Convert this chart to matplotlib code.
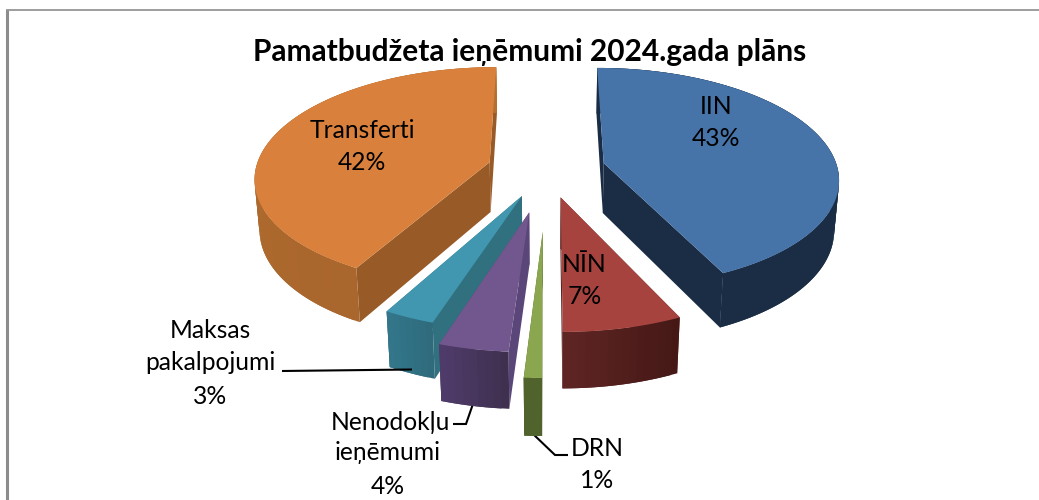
import numpy as np
import matplotlib
matplotlib.use("Agg")
import matplotlib.pyplot as plt
from matplotlib.colors import to_rgb
from matplotlib.collections import PolyCollection

title = "Pamatbudžeta ieņēmumi 2024.gada plāns"
categories = ["IIN", "NĪN", "DRN", "Nenodokļu ieņēmumi", "Maksas pakalpojumi", "Transferti"]
values = [43, 7, 1, 4, 3, 42]

# style: explosion per slice and colours (top, radial wall, rim start, rim end)
explode = [0.25, 0.258, 0.535, 0.385, 0.262, 0.255]
tops = ["#4673A8", "#A6433F", "#8AA64E", "#72578E", "#4197AF", "#D9813C"]
walls = ["#1A2D45", "#5A2422", "#51632C", "#5A4679", "#31707F", "#985B28"]
rim_a = ["#1A2D45", "#451816", "#51632C", "#3F3050", "#2F6B7D", "#A9662D"]
rim_b = ["#1A2D45", "#5E2523", "#51632C", "#4F3B69", "#33768A", "#B5702F"]
draw_order = [5, 0, 4, 3, 1, 2]

# camera
X0, Y0, A, B, K, M, D = 547.0, 169.0, 234.0, 109.0, 0.13, 0.017, 51.0


def project(px, py, z=0.0):
    w = 1 - K * py + M * z
    return X0 + A * px / w, Y0 + (B * py + D * z) / w


fig = plt.figure(figsize=(10.39, 5.0), dpi=100)
ax = fig.add_axes([0, 0, 1, 1])
ax.set_xlim(0, 1039)
ax.set_ylim(500, 0)
ax.axis("off")

# chart frame
ax.plot([7, 7], [500, 10], color="#8C8C8C", lw=2.2, solid_capstyle="butt")
ax.plot([6, 1039], [9.5, 9.5], color="#8C8C8C", lw=1.2, solid_capstyle="butt")

total = sum(values)
edges = np.concatenate([[0], np.cumsum(values)]) / total * 2 * np.pi


def pt(i, th, z=0.0):
    mid = (edges[i] + edges[i + 1]) / 2
    px = explode[i] * np.sin(mid)
    py = -explode[i] * np.cos(mid)
    return project(px + np.sin(th), py - np.cos(th), z)


def apex(i, z=0.0):
    mid = (edges[i] + edges[i + 1]) / 2
    return project(explode[i] * np.sin(mid), -explode[i] * np.cos(mid), z)


for i in draw_order:
    t0, t1 = edges[i], edges[i + 1]
    ths = np.linspace(t0, t1, max(8, int((t1 - t0) * 40)))
    # radial walls
    for th in (t0, t1):
        poly = [apex(i), pt(i, th), pt(i, th, 1), apex(i, 1)]
        ax.fill(*zip(*poly), color=walls[i], lw=0, zorder=1)
    # rim wall: overlapping facets painted in order so no seams show
    quads, cols = [], []
    ca, cb = np.array(to_rgb(rim_a[i])), np.array(to_rgb(rim_b[i]))
    n = len(ths) - 1
    for j in range(n):
        k = min(j + 2, n)
        quads.append([pt(i, ths[j]), pt(i, ths[k]), pt(i, ths[k], 1), pt(i, ths[j], 1)])
        f = j / max(1, n - 1)
        cols.append(tuple(ca + (cb - ca) * f))
    ax.add_collection(PolyCollection(quads, facecolors=cols, edgecolors="none", linewidths=0, zorder=1))
    # top
    poly = [apex(i)] + [pt(i, th) for th in ths]
    ax.fill(*zip(*poly), color=tops[i], lw=0, zorder=1)

# leader lines
lc = dict(color="black", lw=1.5, solid_capstyle="butt", solid_joinstyle="miter")
ax.plot([282, 412], [371, 369.5], zorder=3, **lc)
ax.plot([453, 466, 474], [424, 424, 401], zorder=0.5, **lc)
ax.plot([532, 555, 568], [433, 455, 455], zorder=0.5, **lc)

font = dict(family="Lato", color="black", ha="center", va="center", zorder=4)
fs = 17.7
ax.text(529.5, 52, title, fontsize=21.5, fontweight="bold", **font)
ax.text(716, 107, categories[0], fontsize=fs, **font)
ax.text(716, 139, f"{values[0]}%", fontsize=fs, **font)
ax.text(584, 265, categories[1], fontsize=fs, **font)
ax.text(585, 297, f"{values[1]}%", fontsize=fs, **font)
ax.text(597, 448, categories[2], fontsize=fs, **font)
ax.text(597, 481, f"{values[2]}%", fontsize=fs, **font)
ax.text(390, 423, "Nenodokļu", fontsize=fs, **font)
ax.text(388, 453, "ieņēmumi", fontsize=fs, **font)
ax.text(388, 486, f"{values[3]}%", fontsize=fs, **font)
ax.text(210, 331, "Maksas", fontsize=fs, **font)
ax.text(210, 363, "pakalpojumi", fontsize=fs, **font)
ax.text(210, 396, f"{values[4]}%", fontsize=fs, **font)
ax.text(362, 130, categories[5], fontsize=fs, **font)
ax.text(362, 162, f"{values[5]}%", fontsize=fs, **font)

fig.savefig("out.png", dpi=100, facecolor="white")
